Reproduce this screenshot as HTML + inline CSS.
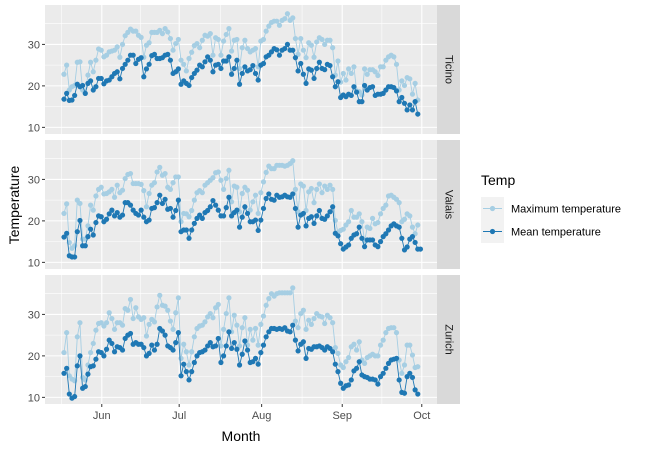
<!DOCTYPE html>
<html><head><meta charset="utf-8"><style>
html,body{margin:0;padding:0;background:#fff;}
svg{display:block;font-family:"Liberation Sans",Arial,sans-serif;}
</style></head><body>
<svg id="chart" width="650" height="450" viewBox="0 0 650 450"></svg>
<script>
const panelNames = ["Ticino","Valais","Zurich"];
const ticinoMax = [22.8,25,19,19.8,20.1,25.7,25.8,19,18.2,22.6,25.7,23.4,26.2,28.9,28.6,27,27.4,28.2,28.4,28.6,29.4,26.9,30,32.1,32.9,33.7,33.2,33.2,32.2,31.7,26.9,29.8,30.4,32.9,32.9,32.9,33.4,32.6,33.8,33,31.4,28.6,30.2,31.2,26.2,25.2,23.6,26.6,28.1,29.7,30.2,29.2,31,32.2,32,32.6,27.4,31.6,31.2,27.4,30.8,32.4,33.8,28.4,31,31.2,24.2,29.2,31,
29,28.2,28.6,29,24.6,30.8,31.2,33.2,34.4,35.3,35.6,35.6,34.6,35.8,36.2,37.4,35.8,36.4,31.4,27.6,31.4,28.6,26.8,30.4,29.8,26.9,30.6,31.6,31.2,30,31,31,29.2,22.6,26,20.9,23,21.4,24.1,23,24.6,18.8,18.6,17.8,24.1,22.8,23.9,23.9,23.4,22.5,24.6,24.6,26.2,27,27.4,27,25.2,19,21.2,20.1,22,21.7,18,20.6,16.6];
const ticinoMean = [16.8,18.2,16.5,16.6,17.7,20.4,19.8,20.1,18.2,20.6,21.2,19,19.8,21.8,21.8,20.5,21.2,21.4,22.2,23,23.4,21.7,24.2,25.2,26.2,27.4,27.4,25.4,26.4,26.8,22.2,24.1,25.2,27.3,27.6,26.6,26.6,26.8,27.4,27.6,26.2,23,23.4,24.1,20.4,21.2,20.6,20.1,22,23,23.8,25,24.6,25.8,27,26.2,23.4,25,25.2,24.2,26,26,27,22.8,24.2,26.2,20.4,23,24.6,
23.6,23.9,24.9,23,21.4,25,25.4,27,27.4,28.2,29,28.7,27.4,28.6,29,30,28.6,28.6,26.8,23.6,25.4,22.8,20.6,24.1,23.8,21.8,24.2,25.7,24.2,23.9,25.2,24.9,22.2,19.8,21,17.2,17.8,17.4,18,17.7,19.8,18.5,16.2,16.2,20.1,19,19.6,19.8,17.7,18,18,18.2,19,19.8,19.8,19.6,18.8,16.2,17.2,15.8,14.2,15.4,14.2,16.2,13.2];
const valaisMax = [21.8,24.1,14.8,13.4,14,25,24.2,15.6,15.6,18.8,23.8,22.6,26,27.6,28.1,26.5,26.6,27,27.6,25.7,28.6,26.8,27.4,30.2,31.2,31.4,29,29,29,28.8,27.3,23.4,26.6,28.6,29.2,31.8,32.9,31,31.4,28.1,27.6,29.2,30.6,30.6,19.8,21.8,21.7,21,22.5,25,26.8,27.3,26.8,28.6,29.2,29.8,30.4,31.6,31.8,29.8,27.6,30.2,32.2,24.6,28.4,28.1,22.2,26.6,28.1,
27.4,22.6,24.6,26.2,21.8,26.8,29.4,31.7,33.2,32.6,32.6,33.4,33.4,33.4,33.2,33.4,33.8,34.5,27.6,22.2,28.9,28.4,22.5,27,27.8,24.4,27.6,28.9,26.8,28.4,27.6,28.6,27.6,20.1,17.2,17.7,18,19,19.8,22.5,20.9,20.9,21.7,19.8,15,18.5,18.2,20.6,19.3,19.6,21.7,23,23.8,26,26.2,25.7,25.2,24.4,19.8,20.4,21.7,21.2,18.5,16.9,19];
const valaisMean = [16.1,17,11.6,11.3,11.3,17.4,20.1,14,14,16.2,18,16.6,19.6,21.2,21,19.8,20.4,21.7,22.6,21.2,22,20.9,21.4,24.4,24.4,23.8,22.6,21.8,21.4,22.6,20.9,19.8,20.2,23,23.2,24.4,26.2,24.2,25.2,22.8,23,20.9,22.5,25,17.4,17.8,17.8,15.8,17.8,19.4,20.6,21.4,20.6,22,22.5,23.4,24.9,23.8,22.6,21.2,21.2,23.2,25.7,21.2,22,22.6,18.5,20.9,23.4,
21.8,19.8,19.8,20.2,17.7,20.2,23,25.4,26.5,25.2,25,26.2,25.7,25.8,26.2,25.8,25.7,26.5,23,18.5,21.4,21.8,18.8,20.6,21,19.4,21.2,22.5,20.6,20.4,21.2,22.2,23.4,17,16.4,14.5,13.2,13.7,14.2,15.8,16.6,16.9,18.5,15.8,13.8,15.4,15.4,15.4,14.2,13.8,15,16.2,16.9,17.8,18.8,19.3,18.8,18.5,15.8,13,13.7,15.6,16.2,14.8,13.2,13.2];
const zurichMax = [20.8,25.6,15.2,14.4,14,24.6,28,14.8,14.2,17.8,20.8,23,26.2,27.8,28,27.2,28,30.4,29,26.4,28,28,27.4,31.4,31,33.6,29,31.6,29.4,28.8,29.2,24.8,27.6,28.8,28.2,31.8,34.6,32.2,32,31,28.4,26.4,30.4,34,19.4,22.8,21,17.8,21,24.6,26.6,27.2,27.4,28.2,29.4,30.2,29.2,31.6,32.4,22.4,26.4,30.2,34,25.8,29.8,27.4,22.4,26.8,29.2,
22.6,26.4,23.8,26.6,22.6,27.6,29.6,32.2,33.8,35,34.4,35,35.2,35.2,35.2,35.2,35.2,36.4,28.4,26.8,30.2,31,26.4,28.6,27.6,29,30.2,29.6,29.4,27.8,29.8,29.2,28,22,20.6,17.8,17.2,18.6,19.6,22.2,22.8,21.4,23.4,19,18.2,19.6,20,20.4,20,20,22.6,23.8,25.6,26.6,26.8,26.8,25.6,19,15.8,17.8,22.6,22.6,20.2,17.2,17.4];
const zurichMean = [15.8,17,10.8,9.8,10.2,17.6,20,12.2,12.6,15.6,17.4,17.6,19.2,21,20.8,20,21.6,23.8,23,21,22.2,22,21.4,24.2,25,25.4,22.8,23.2,22.8,22.8,22,20,20.6,22.6,21.4,22.8,26.6,26,25,22.4,22,21.4,23.2,25.6,15.2,18,16.2,14.2,16.2,18.4,20,20.8,21,21.4,22.4,23.2,22.2,22.4,24.2,18.4,20,22.4,25.8,21.8,23.2,21.6,17.8,20.4,23.6,
21.4,18.4,18.6,19.4,18,20.8,22.6,24.6,25.8,26.6,26.6,26.4,26.6,26.4,26.8,26,25.8,27.4,23.8,21.2,22.8,23.4,19.4,21.8,21.6,22.2,22.2,22.4,22,21.4,22.2,21.8,21,18,16.2,13.4,12.2,12.8,13,14.2,16.4,17,18.6,15.4,15,14.8,14.4,14.4,14.2,13.2,15,15.8,17,18.2,19,19.2,19.4,14.2,11.2,11,15,15.8,14.8,11.8,10.8];
const maxSeries = [ticinoMax, valaisMax, zurichMax];
const meanSeries = [ticinoMean, valaisMean, zurichMean];
const yTicks = [10,20,30];
const yMinor = [15,25,35];
const monthLabels = ["Jun","Jul","Aug","Sep","Oct"];
const monthDays = [15.2,44.3,75.3,105.6,135.5];
const minorDays = [0.14,29.75,59.8,90.5,120.5];

const NS="http://www.w3.org/2000/svg";
const svg=document.getElementById('chart');
function mk(tag,attrs,parent){const e=document.createElementNS(NS,tag);for(const k in attrs)e.setAttribute(k,attrs[k]);(parent||svg).appendChild(e);return e;}
const PX0=45,PX1=437,PH=129;
const panelTops=[5,140,275];
const x=d=>64+(d-1)*2.66;
const yMin=8.4,yMax=39.5;
function y(v,top){return top+PH-(v-yMin)/(yMax-yMin)*PH;}
const MAXC="#a6cee3",MEANC="#1f78b4";

panelNames.forEach((name,p)=>{
  const top=panelTops[p];
  const g=mk('g',{});
  
  
  const bg=mk('rect',{x:PX0,y:top,width:PX1-PX0,height:PH,fill:'#ebebeb'},g);
  
  
  yMinor.forEach(v=>{const l=mk('line',{x1:PX0,x2:PX1,y1:y(v,top),y2:y(v,top),stroke:'#fff','stroke-width':0.55},g);});
  minorDays.forEach(d=>{const l=mk('line',{x1:x(d),x2:x(d),y1:top,y2:top+PH,stroke:'#fff','stroke-width':0.55},g);});
  yTicks.forEach(v=>{
    const l=mk('line',{x1:PX0,x2:PX1,y1:y(v,top),y2:y(v,top),stroke:'#fff','stroke-width':1.1},g);
    
    const t=mk('line',{x1:PX0-3,x2:PX0,y1:y(v,top),y2:y(v,top),stroke:'#333','stroke-width':1},g);
    
    const tx=mk('text',{x:PX0-5,y:y(v,top)+4,'text-anchor':'end','font-size':11,fill:'#4d4d4d'},g);
    tx.textContent=v;
    
  });
  monthDays.forEach(d=>{const l=mk('line',{x1:x(d),x2:x(d),y1:top,y2:top+PH,stroke:'#fff','stroke-width':1.1},g);});
  [[maxSeries[p],MAXC,'max'],[meanSeries[p],MEANC,'mean']].forEach(([arr,c,k])=>{
    const pts=arr.map((v,i)=>x(i+1).toFixed(2)+','+y(v,top).toFixed(2)).join(' ');
    const pl=mk('polyline',{points:pts,fill:'none',stroke:c,'stroke-width':0.9},g);
    
    
    arr.forEach((v,i)=>{
      const ci=mk('circle',{cx:x(i+1),cy:y(v,top),r:2.6,fill:c},g);
      
      
    });
  });
  const st=mk('rect',{x:PX1,y:top,width:23,height:PH,fill:'#d9d9d9'},g);
  
  
  const sx=PX1+11.5,sy=top+PH/2;
  const stt=mk('text',{x:sx,y:sy,'text-anchor':'middle','dominant-baseline':'central','font-size':11,fill:'#1a1a1a',transform:`rotate(90 ${sx} ${sy})`},g);
  stt.textContent=name;
  
  
});
const bottom=panelTops[2]+PH;
monthDays.forEach((d,i)=>{
  const t=mk('line',{x1:x(d),x2:x(d),y1:bottom,y2:bottom+3,stroke:'#333','stroke-width':1});
  
  const tx=mk('text',{x:x(d),y:bottom+15,'text-anchor':'middle','font-size':11,fill:'#4d4d4d'});
  tx.textContent=monthLabels[i];
  
});
</script>
<svg width="0" height="0"></svg>
<script>
(function(){
const NS="http://www.w3.org/2000/svg";const svg=document.getElementById('chart');
function mk(tag,attrs){const e=document.createElementNS(NS,tag);for(const k in attrs)e.setAttribute(k,attrs[k]);svg.appendChild(e);return e;}
const xt=mk('text',{x:241,y:441,'text-anchor':'middle','font-size':14,fill:'#000'});xt.textContent='Month';

const yt=mk('text',{x:19,y:205,'text-anchor':'middle','font-size':14,fill:'#000',transform:'rotate(-90 19 205)'});yt.textContent='Temperature';

const lt=mk('text',{x:481,y:185,'font-size':14,fill:'#000'});lt.textContent='Temp';

[['Maximum temperature','#a6cee3',197],['Mean temperature','#1f78b4',220]].forEach(([lab,c,ty])=>{
  const k=mk('rect',{x:481,y:ty,width:23,height:23,fill:'#f2f2f2'});
  
  const l=mk('line',{x1:483,x2:502,y1:ty+11.5,y2:ty+11.5,stroke:c,'stroke-width':0.9});
  
  const ci=mk('circle',{cx:492.5,cy:ty+11.5,r:2.6,fill:c});
  
  const t=mk('text',{x:511,y:ty+15.5,'font-size':11,fill:'#000'});t.textContent=lab;
  
});
})();
</script>
</body></html>
